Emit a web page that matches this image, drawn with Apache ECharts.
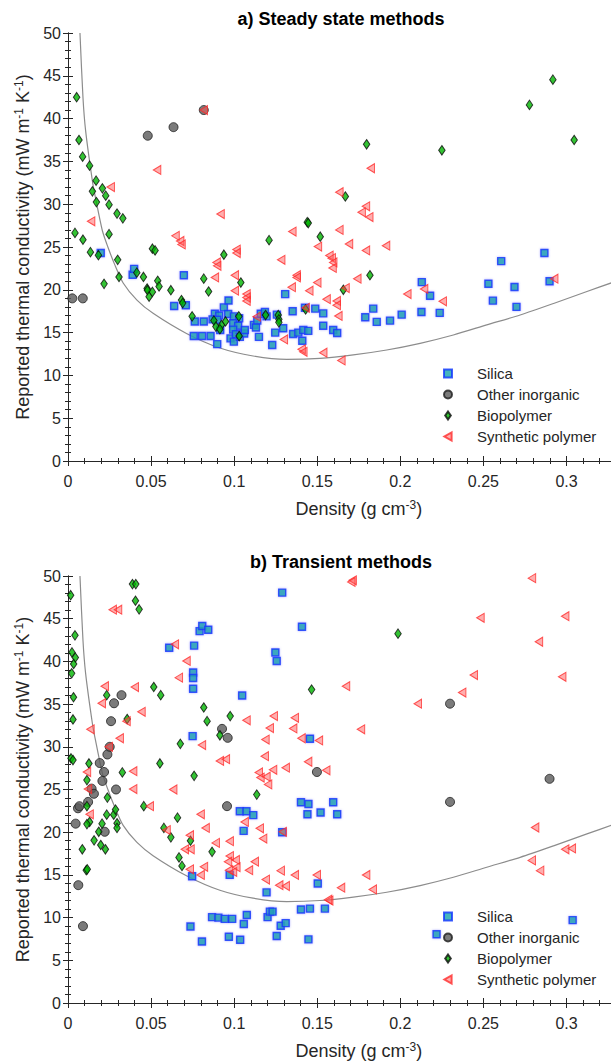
<!DOCTYPE html>
<html><head><meta charset="utf-8">
<script src="https://cdn.jsdelivr.net/npm/echarts@6/dist/echarts.min.js"></script>
<style>html,body{margin:0;padding:0;background:#fff}#c{width:611px;height:1061px}</style>
</head><body><div id="c"></div>
<script>
const seriesNames = ['Silica', 'Other inorganic', 'Biopolymer', 'Synthetic polymer'];
const panelTitles = ['a) Steady state methods', 'b) Transient methods'];
const xAxisTitle = 'Density (g cm{sup|-3})';
const yAxisTitle = 'Reported thermal conductivity (mW m{sup|-1} K{sup|-1})';

// reference curve (same in both panels)
const curveX = [0.0072,0.009,0.0106,0.0147,0.0165,0.0207,0.024,0.028,0.0332,0.0415,0.0512,0.0713,0.0914,0.1114,0.1316,0.1516,0.1717,0.1918,0.2119,0.2319,0.252,0.2721,0.2922,0.3123,0.3283];
const curveY = [50,42.5,38.6,32.7,30.8,26.9,25,23,20.8,18.8,17.25,14.9,13.2,12.27,11.88,12.0,12.4,12.97,13.75,14.72,15.9,17.06,18.4,19.8,20.9];

// a) steady state
const steadySilica = [[0.0197,24.3],[0.0389,21.75],[0.0398,22.45],[0.0697,21.7],[0.0639,18.1],[0.0709,18.2],[0.0763,16.3],[0.0817,16.3],[0.0757,14.6],[0.0807,14.6],[0.0858,14.6],[0.0898,13.65],[0.0884,17.2],[0.091,17.0],[0.087,16.55],[0.0898,16.5],[0.0938,17.95],[0.0966,18.75],[0.0964,17.17],[0.0998,16.9],[0.103,16.67],[0.0994,16.1],[0.1024,15.8],[0.0916,15.3],[0.0978,14.33],[0.0998,13.94],[0.0994,15.35],[0.101,14.8],[0.1034,14.5],[0.106,14.9],[0.1064,15.3],[0.1119,15.9],[0.1139,16.4],[0.1131,15.6],[0.116,17.2],[0.1185,17.4],[0.1195,16.9],[0.1149,14.5],[0.1229,13.55],[0.1247,15.0],[0.1257,17.1],[0.1307,19.5],[0.1295,15.5],[0.1352,17.5],[0.1355,14.84],[0.1386,15.0],[0.1416,15.3],[0.1446,15.2],[0.141,14.05],[0.1426,17.9],[0.1488,17.8],[0.1536,17.25],[0.1536,15.8],[0.1596,15.3],[0.162,14.95],[0.1789,16.8],[0.1837,17.8],[0.1858,16.25],[0.1938,16.4],[0.2008,17.1],[0.2127,17.4],[0.2129,20.9],[0.2179,19.3],[0.2237,17.3],[0.253,20.7],[0.2557,18.73],[0.2607,23.35],[0.2687,20.33],[0.2699,18.0],[0.2867,24.3],[0.2898,21.0]];
const steadyOther = [[0.0026,19.0],[0.0089,19.0],[0.048,38.0],[0.0635,39.0],[0.0817,41.0]];
const steadyBio = [[0.0052,42.5],[0.0066,37.5],[0.0088,35.55],[0.013,34.5],[0.0169,32.75],[0.0147,31.5],[0.0207,31.85],[0.0227,31.0],[0.0171,30.25],[0.0247,29.95],[0.0295,28.9],[0.033,28.35],[0.0042,26.65],[0.009,25.85],[0.0135,24.4],[0.0183,24.05],[0.0247,26.5],[0.0299,23.5],[0.0307,21.5],[0.0217,20.7],[0.0414,22.0],[0.0454,21.5],[0.0476,20.15],[0.0478,19.95],[0.0488,19.2],[0.0508,19.75],[0.0508,24.8],[0.0524,24.6],[0.054,21.05],[0.0548,20.4],[0.0619,19.95],[0.0683,18.8],[0.069,18.45],[0.0747,16.9],[0.0817,21.3],[0.0846,19.8],[0.0878,16.4],[0.089,15.7],[0.0924,15.9],[0.0914,15.4],[0.0948,16.3],[0.0938,24.1],[0.1028,16.9],[0.103,14.6],[0.104,20.85],[0.1189,17.05],[0.121,25.8],[0.1265,17.05],[0.1269,16.55],[0.1269,16.2],[0.143,17.7],[0.144,27.9],[0.1446,27.8],[0.1518,26.2],[0.1657,20.0],[0.1669,30.9],[0.1797,37.0],[0.1817,21.7],[0.225,36.3],[0.2777,41.6],[0.2918,44.55],[0.3046,37.5]];
const steadySynth = [[0.0139,28.0],[0.0257,32.0],[0.0536,34.0],[0.0647,26.3],[0.0675,25.7],[0.0683,25.3],[0.0817,41.0],[0.0918,28.85],[0.0894,23.2],[0.0898,22.8],[0.0884,21.45],[0.1014,24.7],[0.1014,24.3],[0.1004,21.7],[0.1004,19.9],[0.1074,19.5],[0.1074,19.1],[0.1074,18.7],[0.1135,16.86],[0.1283,23.5],[0.135,26.8],[0.1346,20.3],[0.1376,21.7],[0.1376,21.45],[0.1299,14.2],[0.1406,13.05],[0.1416,12.75],[0.143,17.9],[0.1452,19.9],[0.15,20.85],[0.1504,25.05],[0.1536,12.65],[0.1556,18.9],[0.1573,24.0],[0.1587,23.7],[0.1596,23.2],[0.1592,22.55],[0.1617,18.7],[0.1617,18.2],[0.1627,16.95],[0.1633,31.4],[0.1633,27.0],[0.1645,11.75],[0.167,20.2],[0.1691,25.35],[0.1741,21.3],[0.1767,29.05],[0.1793,29.75],[0.1793,24.6],[0.1813,28.5],[0.1822,34.2],[0.1914,25.15],[0.2042,19.5],[0.2143,20.1],[0.2255,18.65],[0.2926,21.3]];

// b) transient
const transSilica = [[0.0609,41.6],[0.0759,41.85],[0.0792,43.55],[0.0808,44.15],[0.0844,43.7],[0.0753,38.7],[0.0753,38.05],[0.0753,36.8],[0.075,31.25],[0.1048,36.0],[0.1289,48.05],[0.1408,44.05],[0.1248,41.05],[0.1256,40.05],[0.1456,30.95],[0.0737,8.95],[0.0747,14.85],[0.0806,7.2],[0.0867,10.05],[0.0905,10.0],[0.0943,9.85],[0.0988,9.85],[0.0968,7.75],[0.1036,7.4],[0.1058,9.25],[0.1076,10.3],[0.0973,15.0],[0.1034,22.45],[0.1074,22.45],[0.1115,22.0],[0.1057,20.15],[0.1195,12.95],[0.1201,10.05],[0.1215,10.7],[0.1231,10.7],[0.1256,7.85],[0.128,9.05],[0.131,9.35],[0.1289,20.0],[0.1402,10.95],[0.1456,11.05],[0.1546,11.05],[0.1447,7.45],[0.1503,14.0],[0.1402,23.5],[0.1447,23.3],[0.1441,22.1],[0.152,22.3],[0.1596,23.5],[0.162,22.1],[0.2218,8.05],[0.3037,9.7]];
const transOther = [[0.0046,21.0],[0.006,22.8],[0.0069,23.05],[0.0121,23.55],[0.0142,25.1],[0.0156,24.5],[0.0207,26.0],[0.0217,27.05],[0.0191,28.1],[0.0237,29.1],[0.0251,30.0],[0.0259,33.0],[0.0277,35.1],[0.0322,36.05],[0.0289,25.0],[0.0221,20.05],[0.0062,13.8],[0.009,9.0],[0.0927,32.1],[0.0961,31.05],[0.0957,23.05],[0.1498,27.05],[0.2299,35.05],[0.2299,23.55],[0.2898,26.25]];
const transBio = [[0.0016,47.75],[0.0042,43.05],[0.0024,41.05],[0.0044,40.45],[0.0034,39.7],[0.0022,38.6],[0.0033,35.8],[0.003,33.2],[0.0018,28.65],[0.003,28.45],[0.0126,28.05],[0.0114,26.1],[0.0233,36.05],[0.0356,33.25],[0.0388,49.05],[0.0408,49.05],[0.0406,47.1],[0.0428,46.1],[0.0516,37.0],[0.0558,36.05],[0.0327,27.0],[0.0237,24.05],[0.0553,28.05],[0.0676,30.35],[0.0759,26.6],[0.0817,34.6],[0.0837,33.0],[0.0914,31.35],[0.0976,33.6],[0.1136,24.4],[0.1466,36.7],[0.1986,43.25],[0.0114,23.05],[0.013,21.2],[0.0114,20.95],[0.0086,18.0],[0.011,15.55],[0.0116,15.65],[0.0157,19.05],[0.0185,20.05],[0.0197,18.5],[0.0205,21.0],[0.0225,18.0],[0.0233,22.05],[0.0275,22.05],[0.0286,22.65],[0.0295,21.05],[0.0295,20.5],[0.0456,23.05],[0.0577,20.5],[0.0619,19.4],[0.0659,21.7],[0.0668,17.05],[0.0686,16.05],[0.0737,19.0],[0.0867,17.7]];
const transSynth = [[0.0269,46.05],[0.0301,46.05],[0.0643,42.0],[0.0713,40.05],[0.0667,38.1],[0.0221,37.1],[0.0402,37.0],[0.0203,35.1],[0.0442,34.1],[0.0352,33.0],[0.0135,32.05],[0.0311,31.0],[0.0245,30.0],[0.0806,30.2],[0.0114,27.05],[0.0392,27.15],[0.012,25.05],[0.0392,25.05],[0.0633,25.0],[0.0914,28.35],[0.095,28.55],[0.1074,33.1],[0.1188,30.85],[0.1184,28.9],[0.1148,27.0],[0.1158,26.4],[0.1194,26.5],[0.1204,25.6],[0.1234,27.3],[0.1214,32.2],[0.1238,33.6],[0.131,27.55],[0.1355,32.15],[0.1365,33.4],[0.1405,31.0],[0.1445,28.25],[0.151,30.75],[0.1713,49.5],[0.1705,49.3],[0.2792,49.75],[0.2482,45.1],[0.2992,45.3],[0.2834,42.3],[0.2442,38.4],[0.2974,38.2],[0.2372,36.35],[0.1673,37.1],[0.2105,35.05],[0.1763,32.05],[0.1554,27.25],[0.013,22.1],[0.0492,23.05],[0.0593,20.25],[0.0798,22.1],[0.0828,20.5],[0.0733,19.65],[0.0703,18.0],[0.0737,18.0],[0.0733,15.65],[0.0798,15.0],[0.0818,15.95],[0.0889,18.75],[0.0973,18.95],[0.0973,17.2],[0.0963,16.55],[0.0969,15.55],[0.0993,15.35],[0.1009,16.75],[0.1013,15.9],[0.1063,21.2],[0.1089,15.55],[0.1124,16.55],[0.1154,20.45],[0.1174,19.25],[0.119,14.45],[0.1271,13.8],[0.131,13.7],[0.128,15.5],[0.1292,20.05],[0.1365,15.0],[0.1497,15.0],[0.1794,15.0],[0.1643,13.5],[0.1834,13.3],[0.1572,12.0],[0.1565,12.1],[0.2811,20.55],[0.2992,18.0],[0.3032,18.1],[0.2791,16.7],[0.2841,15.5]];

const panels = [
  [steadySilica, steadyOther, steadyBio, steadySynth],
  [transSilica, transOther, transBio, transSynth]
];

const FONT = '"Liberation Sans", Arial, sans-serif';
const AX = '#262626';
const gridTops = [33, 576];
const gridH = [428, 427];
const XMAX = 0.35;
const PX_PER_UNIT = 1661.7;

const styles = [
  {symbol: 'rect', symbolSize: 7, itemStyle: {color: '#17a2ac', borderColor: '#1034ff', borderWidth: 1.4, shadowBlur: 2, shadowColor: 'rgba(90,90,255,0.55)'}},
  {symbol: 'circle', symbolSize: 9, itemStyle: {color: '#5a5a5a', borderColor: '#1e1e1e', borderWidth: 1}},
  {symbol: 'diamond', symbolSize: [6.5, 9.5], itemStyle: {color: '#00b400', borderColor: '#0a0a0a', borderWidth: 1}},
  {symbol: 'path://M10,0 L10,10 L0,5 Z', symbolSize: [7.5, 9], itemStyle: {color: 'rgba(255,85,85,0.6)', borderColor: '#ff2a2a', borderWidth: 1}}
];
const legendIcons = [
  'path://M0,0 L10,0 L10,10 L0,10 Z',
  'path://M0,5 A5,5 0 1 1 10,5 A5,5 0 1 1 0,5 Z',
  'path://M3.5,0 L7,5 L3.5,10 L0,5 Z',
  'path://M9,0 L9,10 L0,5 Z'
];

const fmtX = v => (v > 0.33 ? '' : String(Math.round(v * 100) / 100));

const grid = [], xAxis = [], yAxis = [], series = [], legend = [], graphic = [];
const supRich = size => ({sup: {fontSize: size, fontFamily: FONT, color: AX, padding: [0, 0, 8, 0]}});
const tick = {inside: true, length: 5, lineStyle: {color: AX, width: 1}};
const minor = {show: true, splitNumber: 5, length: 3, lineStyle: {color: AX, width: 1}};

for (let g = 0; g < 2; g++) {
  // main grid: extends past the right edge so that ticks continue to 0.32
  grid.push({left: 68, top: gridTops[g], height: gridH[g], width: XMAX * PX_PER_UNIT,
    containLabel: false, outerBoundsMode: 'none'});
  xAxis.push({type: 'value', gridIndex: g, position: 'bottom', min: 0, max: XMAX, interval: 0.05,
    axisLine: {lineStyle: {color: AX, width: 1}}, axisTick: tick, minorTick: minor, splitLine: {show: false},
    axisLabel: {fontSize: 16, color: AX, fontFamily: FONT, margin: 12, formatter: fmtX, showMaxLabel: false},
    name: xAxisTitle, nameLocation: 'middle', nameGap: 38,
    nameTextStyle: {fontSize: 18, color: AX, fontFamily: FONT, rich: supRich(12)}});
  xAxis.push({type: 'value', gridIndex: g, position: 'top', min: 0, max: XMAX, interval: 0.05,
    axisLine: {lineStyle: {color: AX, width: 1}}, axisTick: tick, minorTick: minor, splitLine: {show: false},
    axisLabel: {show: false}});
  yAxis.push({type: 'value', gridIndex: g, position: 'left', min: 0, max: 50, interval: 5,
    axisLine: {lineStyle: {color: AX, width: 1}}, axisTick: tick, minorTick: minor, splitLine: {show: false},
    axisLabel: {fontSize: 16, color: AX, fontFamily: FONT, margin: 7},
    name: yAxisTitle, nameLocation: 'middle', nameGap: 32,
    nameTextStyle: {fontSize: 18, color: AX, fontFamily: FONT, rich: supRich(12)}});
  yAxis.push({type: 'value', gridIndex: g, position: 'right', min: 0, max: 50, interval: 5, show: false});

  series.push({type: 'line', name: 'curve', xAxisIndex: 2 * g, yAxisIndex: 2 * g,
    data: curveX.map((x, i) => [x, curveY[i]]), showSymbol: false, smooth: 0.25,
    lineStyle: {color: '#8c8c8c', width: 1.2}, silent: true, z: 1});
  panels[g].forEach((pts, k) => {
    series.push(Object.assign({type: 'scatter', name: seriesNames[k], xAxisIndex: 2 * g, yAxisIndex: 2 * g,
      data: pts, z: 2 + k}, styles[k]));
  });

  legend.push({orient: 'vertical', left: 438, top: gridTops[g] + 328, itemWidth: 48, itemHeight: 8, itemGap: 6,
    selectedMode: false, textStyle: {fontSize: 15, color: AX, fontFamily: FONT},
    data: seriesNames.map((n, k) => ({name: n, icon: legendIcons[k]}))});

  graphic.push({type: 'text', x: 341, y: gridTops[g] - 14.5,
    style: {text: panelTitles[g], font: 'bold 18px ' + FONT, fill: '#000', align: 'center', verticalAlign: 'middle'}});
}

// frame-right axis: a second grid per panel whose right edge sits at the picture's edge
for (let g = 0; g < 2; g++) {
  grid.push({left: 68, top: gridTops[g], height: gridH[g], width: 544, containLabel: false, outerBoundsMode: 'none'});
  xAxis.push({type: 'value', gridIndex: 2 + g, min: 0, max: 1, show: false});
  yAxis.push({type: 'value', gridIndex: 2 + g, position: 'right', min: 0, max: 50, interval: 5,
    axisLine: {lineStyle: {color: AX, width: 1}}, axisTick: tick, minorTick: minor, splitLine: {show: false},
    axisLabel: {show: false}});
}

const chart = echarts.init(document.getElementById('c'), null, {renderer: 'svg'});
chart.setOption({animation: false, backgroundColor: '#fff', grid, xAxis, yAxis, series, legend, graphic});
</script>
</body></html>
